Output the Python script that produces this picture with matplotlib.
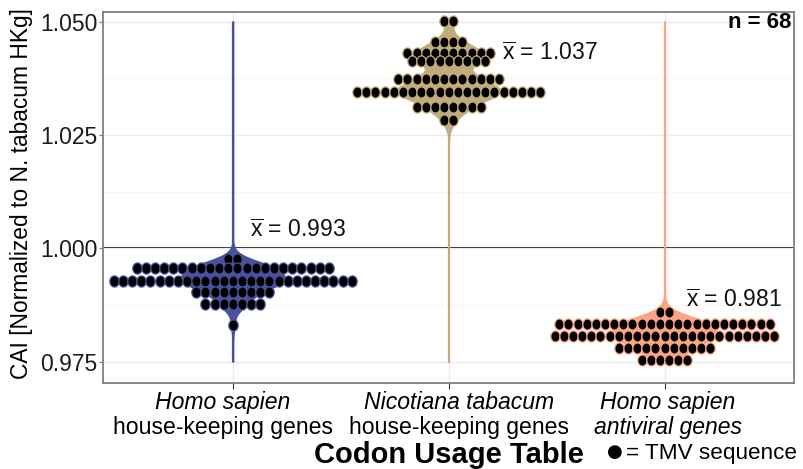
import numpy as np
import matplotlib
matplotlib.use("Agg")
import matplotlib.pyplot as plt
import matplotlib.transforms as mtrans
from matplotlib.path import Path

plt.rcParams['font.family'] = ['Liberation Sans', 'DejaVu Sans']
plt.rcParams['mathtext.fontset'] = 'custom'
plt.rcParams['mathtext.rm'] = 'Liberation Sans'
plt.rcParams['mathtext.it'] = 'Liberation Sans:italic'

# dot rows: CAI level of each row and number of dots in it
hs_hk_levels = [0.9976, 0.9956, 0.9928, 0.9903, 0.9878, 0.9832]
hs_hk_counts = [2, 22, 27, 9, 7, 1]
nt_hk_levels = [1.0502, 1.0456, 1.0432, 1.0413, 1.0373, 1.0344, 1.0312, 1.0283]
nt_hk_counts = [2, 4, 10, 9, 12, 21, 8, 2]
hs_av_levels = [0.9859, 0.9834, 0.9806, 0.9780, 0.9754]
hs_av_counts = [2, 24, 25, 11, 6]

species = ['Homo sapien', 'Nicotiana tabacum', 'Homo sapien']
gene_sets = ['house-keeping genes', 'house-keeping genes', 'antiviral genes']
means = [0.993, 1.037, 0.981]
colors = ['#4a519c', '#c2ab7c', '#fba383']
n_label = 'n = 68'

groups = [(hs_hk_levels, hs_hk_counts), (nt_hk_levels, nt_hk_counts),
          (hs_av_levels, hs_av_counts)]

# slightly tall dot, like the reference
t = np.linspace(0, 2 * np.pi, 40)
oval = Path(np.column_stack([0.42 * np.cos(t), 0.5 * np.sin(t)]), closed=True)

fig = plt.figure(figsize=(8.04, 4.69), dpi=100)
ax = fig.add_axes([0.1285, 0.184, 0.8591, 0.791])

ax.set_xlim(0.4, 3.6)
ax.set_ylim(0.97037, 1.0522)

# grid
ax.set_yticks([0.975, 1.000, 1.025, 1.050])
ax.set_yticks([0.9875, 1.0125, 1.0375], minor=True)
ax.set_xticks([1, 2, 3])
ax.grid(True, which='major', color='#ebebeb', lw=1.0, zorder=0)
ax.grid(True, which='minor', axis='y', color='#f4f4f4', lw=0.8, zorder=0)
ax.axhline(1.0, color='black', lw=1.3, zorder=1)

dx = 0.0424
grid_y = np.linspace(0.975, 1.050, 600)
bw = 0.0017
max_half = 0.24

for i, ((levels, counts), col) in enumerate(zip(groups, colors)):
    xc = i + 1
    vals = np.repeat(levels, counts)
    dens = np.exp(-0.5 * ((grid_y[:, None] - vals[None, :]) / bw) ** 2).sum(axis=1)
    half = dens / dens.max() * max_half
    ax.fill_betweenx(grid_y, xc - half, xc + half, color=col, lw=1.2,
                     edgecolor=col, zorder=2)
    ax.plot([xc, xc], [0.975, 1.050], color=col, lw=1.6, zorder=2,
            solid_capstyle='butt')
    for lv, n in zip(levels, counts):
        xs = xc + (np.arange(n) - (n - 1) / 2) * dx
        ax.scatter(xs, np.full(n, lv), s=64, marker=oval, color='black',
                   edgecolors=col, linewidths=0.9, zorder=3)

# mean labels
mean_pos = [(1.08, 1.0040), (2.245, 1.0430), (3.10, 0.9885)]
for m, (mx, my) in zip(means, mean_pos):
    ax.text(mx, my, r'$\overline{\mathrm{x}}$' + ' = %.3f' % m, fontsize=16.5,
            ha='left', va='center', color='#111111', zorder=4)

ax.text(0.996, 0.972, n_label, transform=ax.transAxes, ha='right', va='center',
        fontsize=16, fontweight='bold')

# axes styling
for sp in ax.spines.values():
    sp.set_color('#7f7f7f')
    sp.set_linewidth(1.3)
ax.tick_params(axis='y', which='major', length=3, color='#7f7f7f',
               labelsize=16.5, labelcolor='#1a1a1a', pad=1)
ax.tick_params(axis='x', which='major', length=4, color='#333333', labelbottom=False)
ax.tick_params(which='minor', length=0)
ax.yaxis.set_major_formatter(matplotlib.ticker.FormatStrFormatter('%.3f'))

ax.set_ylabel('CAI [Normalized to N. tabacum HKg]', fontsize=16.4)
ax.yaxis.set_label_coords(-0.102, 0.51)

# category labels sit a little off their ticks in the reference
label_x = [0.953, 2.046, 3.014]
trans = mtrans.blended_transform_factory(ax.transData, ax.transAxes)
for i, (sp_name, gs) in enumerate(zip(species, gene_sets)):
    ax.text(label_x[i], -0.053, sp_name, transform=trans, ha='center', va='center',
            fontsize=16.6, style='italic')
    ax.text(label_x[i], -0.121, gs, transform=trans, ha='center', va='center',
            fontsize=16.6, style='italic' if i == 2 else 'normal')

fig.text(0.5585, 0.030, 'Codon Usage Table', ha='center', va='center',
         fontsize=21, fontweight='bold')
fig.text(0.755, 0.036, '●', ha='left', va='center', fontsize=13,
         family=['DejaVu Sans'])
fig.text(0.779, 0.034, '= TMV sequence', ha='left', va='center', fontsize=16.2)

fig.savefig('out.png', dpi=100)
